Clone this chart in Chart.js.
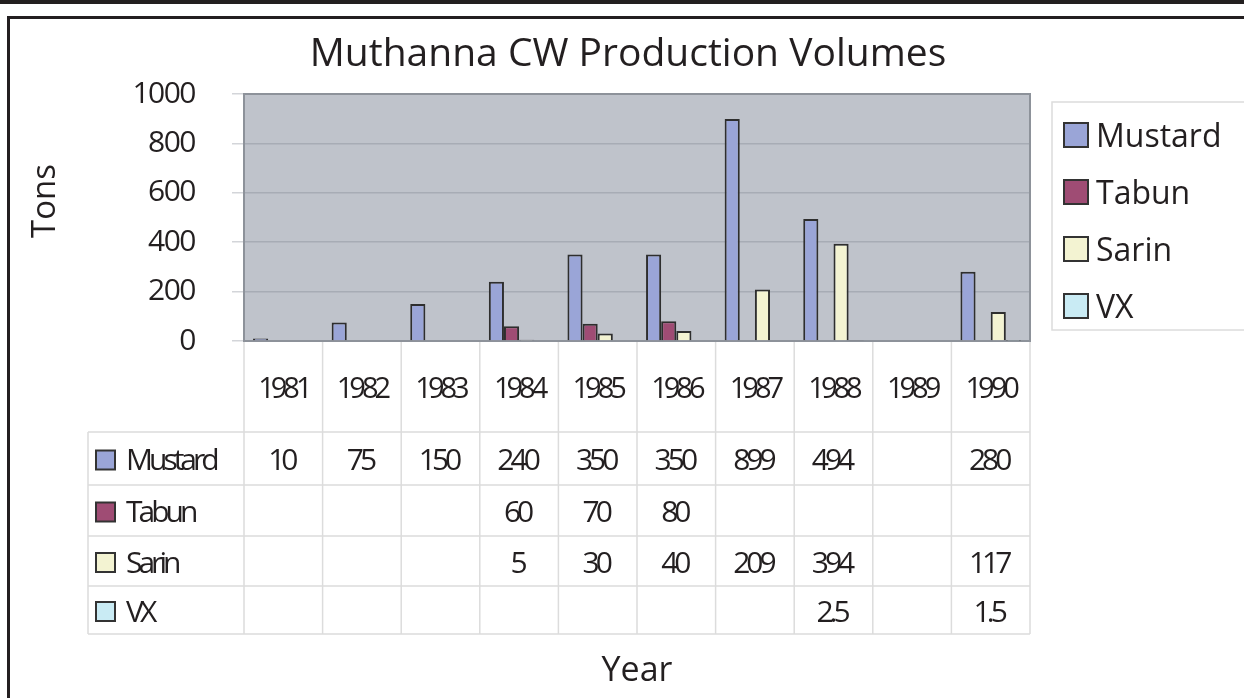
<!DOCTYPE html>
<html>
<head>
<meta charset="utf-8">
<script src="https://cdn.jsdelivr.net/npm/chart.js@4"></script>
<style>
  html, body { margin: 0; padding: 0; background: #fff; }
  #wrap { width: 1244px; height: 698px; }
</style>
</head>
<body>
<div id="wrap"><canvas id="chart1" width="1244" height="698"></canvas></div>
<script>
// data
const years = ['1981', '1982', '1983', '1984', '1985', '1986', '1987', '1988', '1989', '1990'];
const mustard = [10, 75, 150, 240, 350, 350, 899, 494, null, 280];
const tabun = [null, null, null, 60, 70, 80, null, null, null, null];
const sarin = [null, null, null, 5, 30, 40, 209, 394, null, 117];
const vx = [null, null, null, null, null, null, null, 2.5, null, 1.5];
const seriesNames = ['Mustard', 'Tabun', 'Sarin', 'VX'];
const seriesColors = ['#9aa5d7', '#9f4c74', '#f3f3d2', '#c9ebf4'];
const yTicks = [0, 200, 400, 600, 800, 1000];

const sans = '"Open Sans", sans-serif';
const ink = '#231f20';

// tighter letter spacing for the axis labels (source font is narrow)
function tighten(scale, spacing) {
    if (scale._tight) return;
    const orig = scale.drawLabels.bind(scale);
    scale.drawLabels = function (area) {
        const c = scale.ctx;
        c.save();
        c.letterSpacing = spacing;
        orig(area);
        c.restore();
    };
    scale._tight = true;
}

// frame, plot background, table and legend
const decor = {
    id: 'decor',
    afterLayout(chart) {
        tighten(chart.scales.x, '-4px');
        tighten(chart.scales.y, '-1.5px');
    },
    beforeDraw(chart) {
        const ctx = chart.ctx;
        const a = chart.chartArea;
        ctx.save();
        ctx.fillStyle = '#fff';
        ctx.fillRect(0, 0, chart.width, chart.height);
        ctx.fillStyle = ink;
        ctx.fillRect(0, 0, chart.width, 4);
        ctx.fillRect(7, 16, chart.width, 3);
        ctx.fillRect(7, 16, 3, chart.height);
        ctx.fillStyle = '#bfc3cb';
        ctx.fillRect(a.left, a.top, a.right - a.left, a.bottom - a.top);
        ctx.restore();
    },
    beforeDatasetsDraw(chart) {
        const ctx = chart.ctx;
        const a = chart.chartArea;
        ctx.save();
        ctx.strokeStyle = '#8d929a';
        ctx.lineWidth = 2;
        ctx.strokeRect(a.left, a.top, a.right - a.left, a.bottom - a.top);
        ctx.restore();
    },
    afterDraw(chart) {
        const ctx = chart.ctx;
        const a = chart.chartArea;
        const x = chart.scales.x;
        const rows = [mustard, tabun, sarin, vx];
        const tableTop = 432, rowH = [53, 51, 50, 48];
        const tableLeft = 88;
        const half = (x.getPixelForValue(1) - x.getPixelForValue(0)) / 2;
        ctx.save();

        // title
        ctx.fillStyle = ink;
        ctx.font = '39px ' + sans;
        ctx.textAlign = 'center';
        ctx.textBaseline = 'alphabetic';
        ctx.fillText('Muthanna CW Production Volumes', 628, 66);

        ctx.strokeStyle = '#dcdcdc';
        ctx.lineWidth = 1.5;
        // vertical lines
        let bottom = tableTop + rowH.reduce((s, v) => s + v, 0);
        ctx.beginPath();
        for (let i = 0; i <= years.length; i++) {
            const px = x.getPixelForValue(i) - half;
            ctx.moveTo(px, a.bottom + 1);
            ctx.lineTo(px, bottom);
        }
        ctx.moveTo(tableLeft, tableTop);
        ctx.lineTo(tableLeft, bottom);
        // horizontal lines
        let y = tableTop;
        ctx.moveTo(tableLeft, y);
        ctx.lineTo(a.right, y);
        rowH.forEach(h => {
            y += h;
            ctx.moveTo(tableLeft, y);
            ctx.lineTo(a.right, y);
        });
        ctx.stroke();

        // row labels and values
        ctx.textBaseline = 'middle';
        y = tableTop;
        rows.forEach((row, r) => {
            const cy = y + rowH[r] / 2 + 3;
            ctx.fillStyle = seriesColors[r];
            ctx.fillRect(96, cy - 11, 19, 19);
            ctx.strokeStyle = '#333';
            ctx.lineWidth = 2;
            ctx.strokeRect(96, cy - 11, 19, 19);
            ctx.fillStyle = ink;
            ctx.font = '30px ' + sans;
            ctx.letterSpacing = '-4px';
            ctx.textAlign = 'left';
            ctx.fillText(seriesNames[r], 126, cy);
            ctx.textAlign = 'center';
            row.forEach((v, i) => {
                if (v !== null) ctx.fillText(String(v), x.getPixelForValue(i) - 2, cy);
            });
            ctx.letterSpacing = '0px';
            y += rowH[r];
        });

        // y axis title
        ctx.save();
        ctx.translate(46, 201);
        ctx.rotate(-Math.PI / 2);
        ctx.font = '33px ' + sans;
        ctx.textAlign = 'center';
        ctx.fillText('Tons', 0, 0);
        ctx.restore();

        // legend
        ctx.strokeStyle = '#dcdcdc';
        ctx.lineWidth = 1.5;
        ctx.strokeRect(1052, 102, 220, 228);
        ctx.font = '32px ' + sans;
        ctx.textAlign = 'left';
        seriesNames.forEach((n, i) => {
            const top = 123 + i * 57;
            ctx.fillStyle = seriesColors[i];
            ctx.fillRect(1064, top, 24, 24);
            ctx.strokeStyle = '#333';
            ctx.lineWidth = 2;
            ctx.strokeRect(1064, top, 24, 24);
            ctx.fillStyle = ink;
            ctx.fillText(n, 1096, top + 15);
        });
        ctx.restore();
    }
};

function makeSet(i, values) {
    return {
        label: seriesNames[i],
        data: values,
        backgroundColor: seriesColors[i],
        borderColor: '#2e2e2e',
        borderWidth: 2,
        borderSkipped: 'bottom',
        categoryPercentage: 0.77,
        barPercentage: 1.0
    };
}

function createChart() {
    const ctx = document.getElementById('chart1');
    new Chart(ctx, {
        type: 'bar',
        data: {
            labels: years,
            datasets: [makeSet(0, mustard), makeSet(1, tabun), makeSet(2, sarin), makeSet(3, vx)]
        },
        options: {
            responsive: false,
            animation: false,
            layout: { padding: { top: 94, right: 214, left: 0, bottom: 0 } },
            plugins: {
                legend: { display: false },
                tooltip: { enabled: false },
                title: { display: false }
            },
            scales: {
                x: {
                    grid: { display: false },
                    border: { display: false },
                    ticks: { color: ink, font: { family: sans, size: 29 }, padding: 23 },
                    title: {
                        display: true,
                        text: 'Year',
                        color: ink,
                        font: { family: sans, size: 34 },
                        padding: { bottom: 6 }
                    },
                    afterFit(scale) { scale.height = 357; }
                },
                y: {
                    min: yTicks[0],
                    max: yTicks[yTicks.length - 1],
                    afterBuildTicks(scale) { scale.ticks = yTicks.map(v => ({ value: v })); },
                    ticks: {
                        color: ink,
                        font: { family: sans, size: 30 },
                        padding: 37,
                        callback: v => String(v)
                    },
                    grid: { color: '#a7acb5', tickColor: '#d3d5d9', tickLength: 12, lineWidth: 1.5 },
                    border: { display: false },
                    afterFit(scale) { scale.width = 244; }
                }
            }
        },
        plugins: [decor]
    });
}

createChart();
</script>
</body>
</html>
